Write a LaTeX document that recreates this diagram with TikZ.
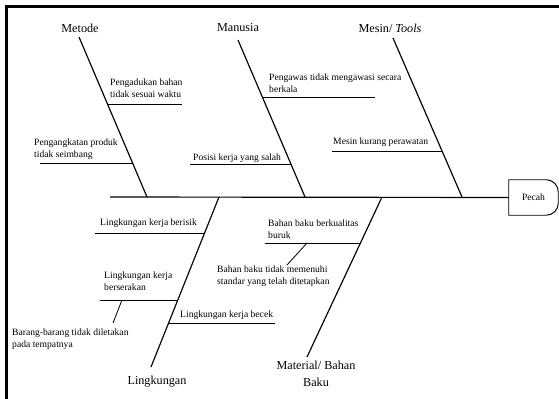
\documentclass[tikz,border=0pt]{standalone}
\usepackage{fontspec}
\setmainfont{Liberation Serif}
\usetikzlibrary{calc}

\begin{document}
\begin{tikzpicture}[x=0.03cm, y=-0.03cm,
  cat/.style={font=\fontsize{10.4}{14}\selectfont, align=center, inner sep=0pt},
  cause/.style={font=\fontsize{8.2}{10.5}\selectfont, align=left, anchor=west, inner sep=0pt},
  bone/.style={line width=1pt},
  sub/.style={line width=0.7pt},
  frame/.style={line width=3pt}
]
\useasboundingbox (0,0) rectangle (559,399);
\draw[frame] (6.5,399) -- (6.5,6.5) -- (559,6.5);

% head and spine
\node[font=\fontsize{8.2}{10}\selectfont, minimum width=1.47cm, minimum height=1.05cm, inner sep=0pt] (pecah) at (533.5,197.5) {Pecah};
\draw[line width=0.8pt] (pecah.south west) -- (pecah.north west) -- ([xshift=-0.36cm]pecah.north east)
  arc[start angle=90, end angle=0, radius=0.36cm] -- ([yshift=0.36cm]pecah.south east)
  arc[start angle=0, end angle=-90, radius=0.36cm] -- cycle;
\coordinate (tail) at (110,197);
\draw[bone] (tail) -- (pecah.west);

% categories
\node[cat] (metode)  at (80,28)  {Metode};
\node[cat] (manusia) at (238,28) {Manusia};
\node[cat] (mesin)   at (390,28) {Mesin/ \textit{Tools}};
\node[cat] (lingk)   at (157,382) {Lingkungan};
\node[cat] (mat)     at (316,374) {Material/ Bahan\\Baku};

\coordinate (mt) at (79,37);   \coordinate (ms) at (147,197);
\coordinate (nt) at (238,40);  \coordinate (ns) at (305,197);
\coordinate (tt) at (393,38);  \coordinate (ts) at (462,197);
\coordinate (ls) at (219,197); \coordinate (lb) at (151,367);
\coordinate (bs) at (382,197); \coordinate (bb) at (307,357);
\draw[bone] (mt) -- (ms);
\draw[bone] (nt) -- (ns);
\draw[bone] (tt) -- (ts);
\draw[bone] (ls) -- (lb);
\draw[bone] (bs) -- (bb);

% causes - Metode
\node[cause] (c1) at (110,88)  {Pengadukan bahan\\tidak sesuai waktu};
\node[cause] (c2) at (34,149)  {Pengangkatan produk\\tidak seimbang};
\coordinate (c1a) at (107.5,104); \coordinate (c1b) at (182,104);
\coordinate (c2a) at (40,163);    \coordinate (c2b) at (132.6,163);
\draw[sub] (c1a) -- (c1b);
\draw[sub] (c2a) -- (c2b);

% causes - Manusia
\node[cause] (c3) at (269,83)  {Pengawas tidak mengawasi secara\\berkala};
\node[cause] (c4) at (193,158) {Posisi kerja yang salah};
\coordinate (c3a) at (262.3,97);  \coordinate (c3b) at (375,97);
\coordinate (c4a) at (190,164);   \coordinate (c4b) at (290.9,164);
\draw[sub] (c3a) -- (c3b);
\draw[sub] (c4a) -- (c4b);

% causes - Mesin
\node[cause] (c5) at (333,142) {Mesin kurang perawatan};
\coordinate (c5a) at (332,151);   \coordinate (c5b) at (442,151);
\draw[sub] (c5a) -- (c5b);

% causes - Lingkungan
\node[cause] (c6) at (100,223) {Lingkungan kerja berisik};
\node[cause] (c7) at (104,281) {Lingkungan kerja\\berserakan};
\node[cause] (c8) at (12,339.5) {Barang-barang tidak diletakan\\pada tempatnya};
\node[cause] (c9) at (180,315) {Lingkungan kerja becek};
\coordinate (c6a) at (95,233);    \coordinate (c6b) at (204.6,233);
\coordinate (c7a) at (100,300);   \coordinate (c7b) at (177.8,300);
\coordinate (c8a) at (122,300);   \coordinate (c8b) at (113,323);
\coordinate (c9a) at (168.6,323); \coordinate (c9b) at (275,323);
\draw[sub] (c6a) -- (c6b);
\draw[sub] (c7a) -- (c7b);
\draw[sub] (c8a) -- (c8b);
\draw[sub] (c9a) -- (c9b);

% causes - Material
\node[cause] (c10) at (268,229.5) {Bahan baku berkualitas\\buruk};
\node[cause] (c11) at (217,276.5) {Bahan baku tidak memenuhi\\standar yang telah ditetapkan};
\coordinate (c10a) at (265,243);  \coordinate (c10b) at (360.4,243);
\coordinate (c11a) at (307,243);  \coordinate (c11b) at (287,265);
\draw[sub] (c10a) -- (c10b);
\draw[sub] (c11a) -- (c11b);
\end{tikzpicture}
\end{document}
